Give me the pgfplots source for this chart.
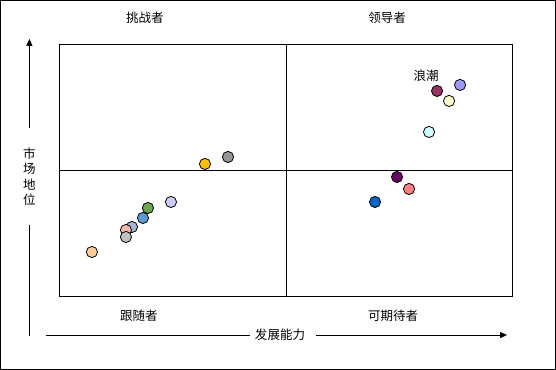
\documentclass[border=0pt]{standalone}
\usepackage{pgfplots}
\pgfplotsset{compat=1.18}
\usepackage{fontspec}
\setmainfont{Noto Sans CJK SC}
\usetikzlibrary{arrows.meta}
\definecolor{c1}{HTML}{FFCC99}
\definecolor{c2}{HTML}{C0C0C0}
\definecolor{c3}{HTML}{F4B8A8}
\definecolor{c4}{HTML}{A6B4D9}
\definecolor{c5}{HTML}{5B9BD5}
\definecolor{c6}{HTML}{6AA84F}
\definecolor{c7}{HTML}{CCCCFF}
\definecolor{c8}{HTML}{FFC000}
\definecolor{c9}{HTML}{969696}
\definecolor{c10}{HTML}{0066CC}
\definecolor{c11}{HTML}{FF8080}
\definecolor{c12}{HTML}{660066}
\definecolor{c13}{HTML}{CCFFFF}
\definecolor{c14}{HTML}{993366}
\definecolor{c15}{HTML}{FFFFCC}
\definecolor{c16}{HTML}{9999FF}
\pgfplotsset{dot/.style={only marks,mark=*,mark size=5.6pt,mark options={draw=black,line width=0.8pt,fill=#1}}}
\begin{document}
\begin{tikzpicture}[x=1pt,y=1pt]
\fontsize{12.5}{14}\selectfont
\draw[black,line width=0.8pt] (0.5,0.5) rectangle (555.5,369.5);
\begin{axis}[
  at={(59pt,74pt)}, anchor=south west,
  width=453pt, height=252pt, scale only axis,
  xmin=0, xmax=453, ymin=0, ymax=252,
  ticks=none, axis line style={black,line width=0.8pt},
  clip=false,
]
\draw[black,line width=0.8pt] (axis cs:227,0) -- (axis cs:227,252);
\draw[black,line width=0.8pt] (axis cs:0,126) -- (axis cs:453,126);
\addplot[dot=c1] coordinates {(33,44)};
\addplot[dot=c4] coordinates {(73,69)};
\addplot[dot=c3] coordinates {(67,66)};
\addplot[dot=c2] coordinates {(67,59)};
\addplot[dot=c5] coordinates {(84,78)};
\addplot[dot=c6] coordinates {(89,88)};
\addplot[dot=c7] coordinates {(112,94)};
\addplot[dot=c8] coordinates {(146,132)};
\addplot[dot=c9] coordinates {(169,139)};
\addplot[dot=c10] coordinates {(316,94)};
\addplot[dot=c11] coordinates {(350,107)};
\addplot[dot=c12] coordinates {(338,119)};
\addplot[dot=c13] coordinates {(370,164)};
\addplot[dot=c14] coordinates {(378,205)};
\addplot[dot=c15] coordinates {(390,195)};
\addplot[dot=c16] coordinates {(401,211)};
\node at (axis cs:367,220) {浪潮};
\end{axis}
% quadrant labels
\node at (145,352) {挑战者};
\node at (387,352) {领导者};
\node at (139,54) {跟随者};
\node at (393,54) {可期待者};
% y arrow
\draw[black,line width=0.9pt,-{Triangle[length=7pt,width=6pt]}] (29.5,242) -- (29.5,331);
\draw[black,line width=0.9pt] (29.5,145) -- (29.5,34);
\node at (29.5,216) {市};
\node at (29.5,201) {场};
\node at (29.5,185) {地};
\node at (29.5,170) {位};
% x arrow
\draw[black,line width=0.9pt] (46,35) -- (250,35);
\draw[black,line width=0.9pt,-{Triangle[length=7pt,width=6pt]}] (316,35) -- (507,35);
\node at (280,35) {发展能力};
\end{tikzpicture}
\end{document}
